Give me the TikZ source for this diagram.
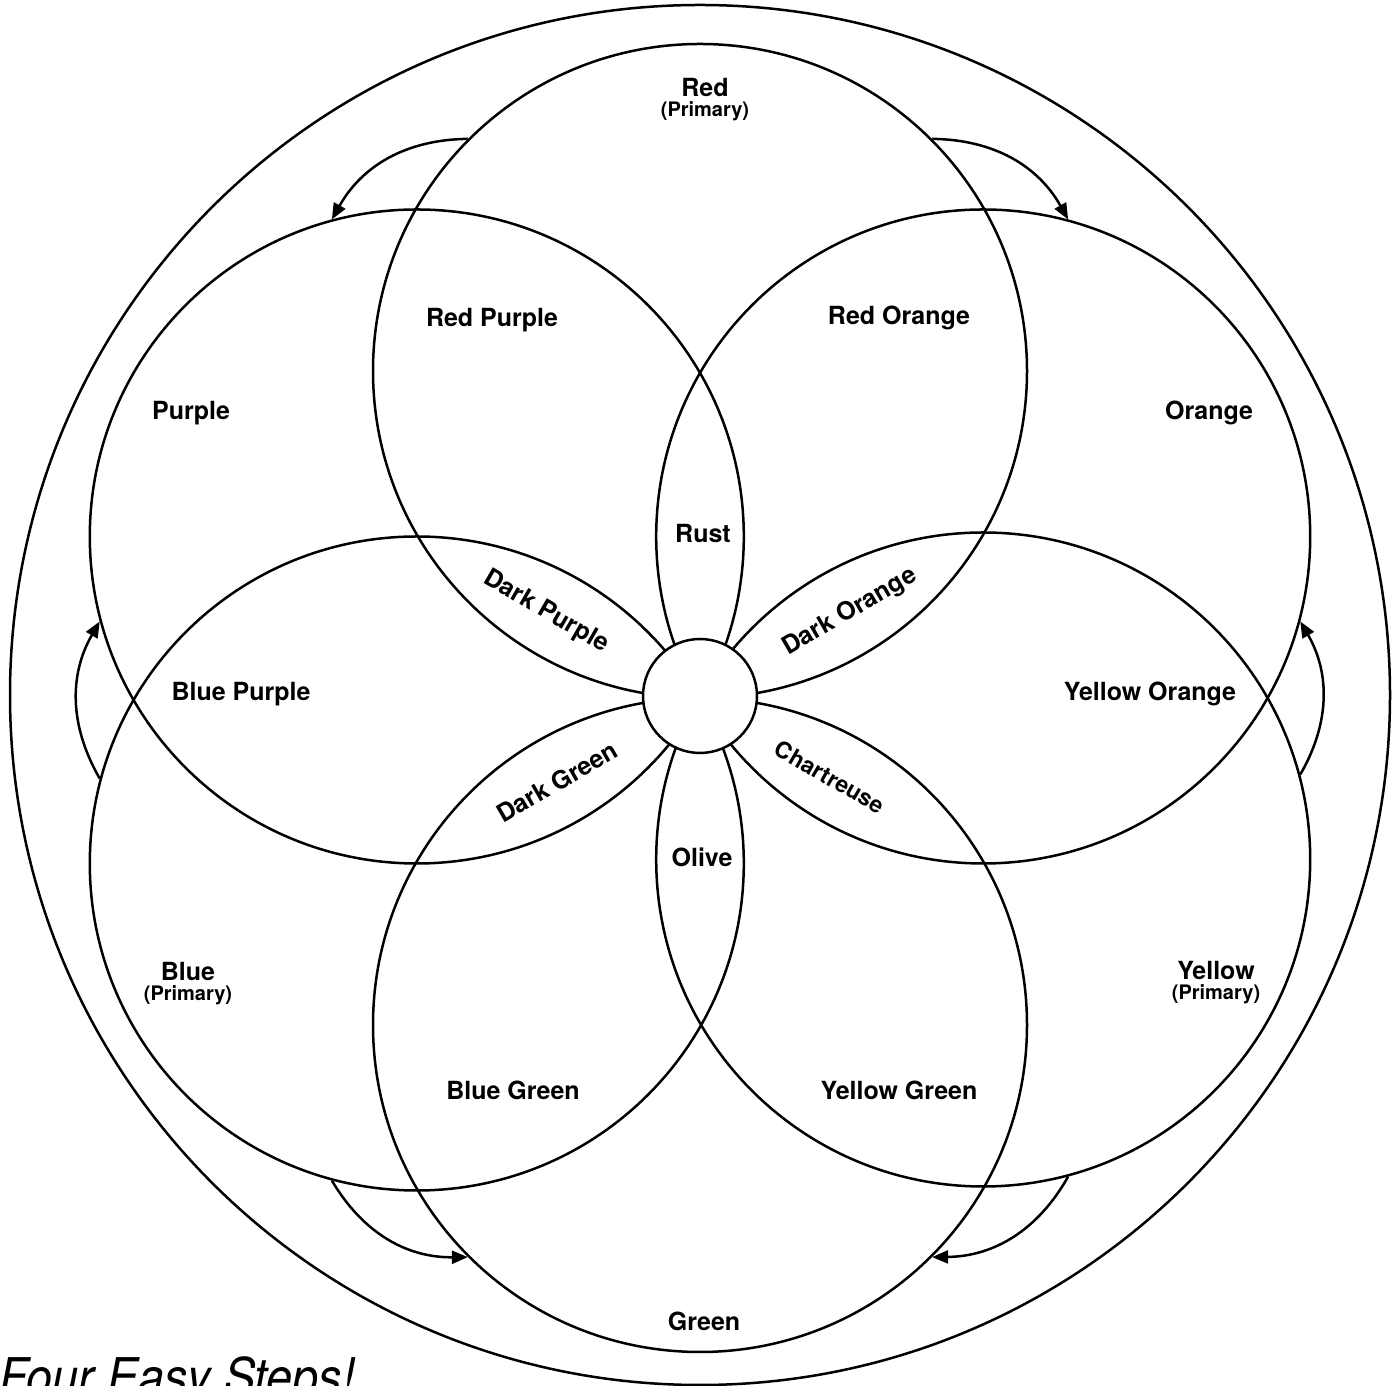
\documentclass[tikz,border=0pt]{standalone}
\usepackage{fontspec}
\setmainfont{TeX Gyre Heros}
\usetikzlibrary{arrows.meta}

\tikzset{
  ring/.style={draw, circle, inner sep=0pt, line width=2.5pt},
  hue/.style={font=\fontsize{25}{20}\selectfont\bfseries, align=center, inner sep=0pt},
  turn/.style={-{Triangle[length=16pt,width=13pt]}, line width=2.5pt},
}
\newcommand{\prim}{\fontsize{20}{20}\selectfont(Primary)}

\begin{document}
\begin{tikzpicture}[x=1pt, y=1pt]
        \useasboundingbox (0,0) rectangle (1400,1386);
        \node[ring, minimum size=1380pt] (rim) at (700,691) {};
        \foreach \n/\x/\y in {red/700/1015, purple/416.8/849.5, orange/983.2/849.5,
                              blue/416.8/522.5, yellow/983.2/526.5, green/700/361} {
            \node[ring, minimum size=654pt] (\n) at (\x,\y) {};
        }
        \node[ring, minimum size=114pt, fill=white] (hub) at (700,690) {};
        % arrows from the primaries to their neighbours
        \foreach \a/\s/\b/\e/\side in {red/135/purple/105/right, red/45/orange/75/left,
                                       blue/165/purple/195/left, yellow/15/orange/345/right,
                                       blue/255/green/225/right, yellow/285/green/315/left} {
            \draw[turn] (\a.\s) to[bend \side=30] (\b.\e);
        }
        \node[hue] (redtag) at (705,1286) {Red\\\prim};
        \node[hue] (redpurple) at (492,1066) {Red Purple};
        \node[hue] (redorange) at (899,1068) {Red Orange};
        \node[hue] (purpletag) at (191,973) {Purple};
        \node[hue] (orangetag) at (1209,973) {Orange};
        \node[hue] (rust) at (703,852) {Rust};
        \node[hue, rotate=-30] (darkpurple) at (546,774) {Dark Purple};
        \node[hue, rotate=30] (darkorange) at (850,774) {Dark Orange};
        \node[hue] (bluepurple) at (241,692) {Blue Purple};
        \node[hue] (yelloworange) at (1150,692) {Yellow Orange};
        \node[hue, rotate=30] (darkgreen) at (557,604) {Dark Green};
        \node[hue, rotate=-30, font=\fontsize{23}{20}\selectfont\bfseries] (chartreuse) at (830,609) {Chartreuse};
        \node[hue] (olive) at (702,529) {Olive};
        \node[hue] (bluetag) at (188,402) {Blue\\\prim};
        \node[hue] (yellowtag) at (1216,403) {Yellow\\\prim};
        \node[hue] (bluegreen) at (513,296) {Blue Green};
        \node[hue] (yellowgreen) at (899,296) {Yellow Green};
        \node[hue] (greentag) at (704,65) {Green};
        \node[anchor=base west, font=\fontsize{52}{52}\selectfont\itshape, xscale=0.9, transform shape] (steps) at (-4,-10) {Four Easy Steps!};
\end{tikzpicture}
\end{document}
